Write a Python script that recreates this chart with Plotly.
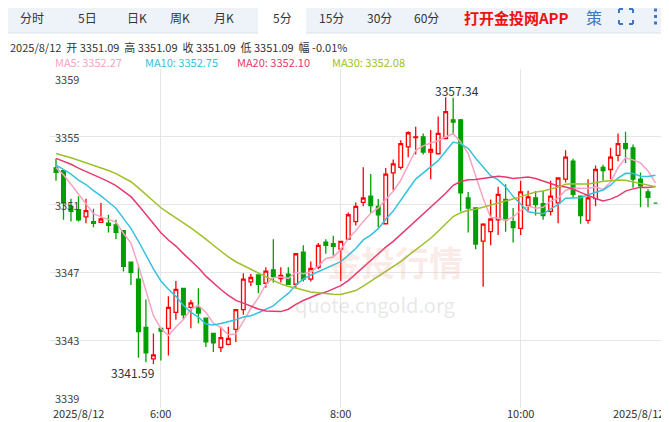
import plotly.graph_objects as go
import pandas as pd

opens = [3353.17,3353.0,3350.9,3350.7,3350.27,3350.0,3349.95,3349.9,3349.8,3349.46,3347.6,3346.6,3343.76,3341.9,3343.7,3343.7,3344.64,3346.06,3344.94,3344.9,
 3344.3,3343.4,3342.57,3342.75,3343.64,3344.8,3346.44,3346.85,3346.36,3347.15,3346.64,3346.9,3346.3,3348.2,3346.6,3347.3,3348.79,3348.69,3348.37,3348.96,
 3350.0,3351.13,3351.5,3350.9,3349.87,3352.87,3353.2,3354.4,3354.96,3355.0,3354.1,3354.0,3354.9,3356.0,3356.0,3351.4,3350.8,3348.85,3349.4,3350.1,
 3351.3,3350.0,3349.6,3350.96,3351.4,3351.05,3350.6,3351.1,3352.5,3353.57,3351.5,3350.07,3351.35,3353.2,3353.07,3353.9,3354.6,3354.35,3352.5,3351.75,3351.09]
highs = [3353.7,3353.0,3351.35,3351.5,3351.35,3350.76,3351.1,3350.4,3350.1,3349.46,3347.6,3347.35,3345.4,3343.4,3343.7,3345.6,3346.5,3346.06,3345.37,3346.06,
 3344.3,3343.4,3343.8,3343.8,3344.8,3346.95,3346.9,3346.85,3347.3,3348.96,3347.3,3347.3,3348.1,3348.6,3347.65,3348.73,3348.96,3349.16,3348.83,3350.54,
 3351.13,3353.2,3352.8,3351.33,3353.16,3353.66,3354.8,3355.33,3355.6,3355.2,3355.4,3356.2,3357.34,3357.3,3356.05,3351.75,3350.8,3349.9,3351.3,3352.05,
 3352.2,3350.8,3352.4,3351.82,3351.8,3351.8,3352.4,3352.57,3354.2,3353.7,3351.5,3352.5,3353.3,3353.35,3354.35,3355.2,3355.3,3354.55,3352.9,3351.9,3351.09]
lows = [3352.4,3350.1,3350.0,3350.0,3349.9,3349.67,3349.95,3349.36,3348.96,3347.05,3346.26,3341.96,3341.7,3341.59,3341.8,3342.1,3344.2,3344.23,3343.7,3344.0,
 3342.6,3342.3,3342.3,3342.7,3342.9,3344.5,3346.2,3345.77,3346.1,3346.4,3346.4,3346.26,3346.1,3346.46,3346.46,3347.2,3348.1,3348.0,3346.5,3348.96,
 3349.77,3350.9,3350.5,3349.65,3349.87,3351.84,3353.07,3353.8,3353.95,3353.95,3352.5,3354.0,3354.9,3355.1,3350.6,3349.36,3348.37,3346.16,3348.6,3349.2,
 3349.4,3348.77,3349.2,3350.64,3350.35,3350.1,3350.35,3349.9,3352.3,3351.4,3349.87,3349.87,3350.9,3352.4,3352.5,3353.56,3353.46,3352.0,3350.84,3350.84,3351.09]
closes = [3352.9,3351.1,3350.6,3350.1,3350.64,3349.9,3350.15,3349.77,3349.36,3347.35,3347.0,3343.5,3342.26,3342.14,3343.54,3344.94,3346.0,3344.5,3345.2,3344.6,
 3342.9,3342.85,3343.15,3343.1,3344.8,3346.6,3346.7,3346.3,3347.07,3346.75,3346.83,3346.3,3348.1,3346.6,3347.23,3348.6,3348.6,3348.53,3348.83,3350.4,
 3350.9,3351.39,3350.94,3350.4,3352.8,3353.4,3354.6,3355.24,3355.0,3354.1,3354.25,3355.2,3356.48,3355.87,3351.7,3350.8,3348.67,3349.85,3350.15,3351.6,
 3350.1,3349.65,3351.75,3351.45,3351.0,3350.35,3351.5,3352.57,3353.8,3351.6,3350.35,3351.4,3353.07,3353.0,3353.8,3354.6,3354.3,3352.5,3352.1,3351.43,3351.09]
# closes before the visible window (estimated so the MAs start where the picture shows)
prior_closes = [3354.6,3354.8,3354.5,3354.9,3354.7,3354.4,3354.6,3354.8,3354.5,3354.3,
 3354.4,3354.2,3354.6,3354.3,3354.0,3354.2,3353.9,3354.1,3353.8,3353.6,
 3353.7,3353.4,3353.6,3353.3,3353.5,3353.2,3353.4,3353.1,3353.3]
tick_idx = [14, 38, 62]
tick_text = ["6:00", "8:00", "10:00"]
y_ticks = [3339, 3343, 3347, 3351, 3355, 3359]

n = len(closes)
x = list(range(n))
allc = pd.Series(prior_closes + closes)
k = len(prior_closes)
ma_cfg = [(5, "#f7a3c2"), (10, "#36c2de"), (20, "#e8396e"), (30, "#9dc02c")]

fig = go.Figure()
for p, col in ma_cfg:
    ma = allc.rolling(p).mean().iloc[k:].tolist()
    fig.add_trace(go.Scatter(x=x, y=ma, mode="lines", line=dict(color=col, width=1.5), hoverinfo="skip"))
fig.add_trace(go.Candlestick(x=x, open=opens, high=highs, low=lows, close=closes,
    increasing=dict(line=dict(color="#ff0000", width=1.3), fillcolor="white"),
    decreasing=dict(line=dict(color="#009f00", width=1.3), fillcolor="#009f00"),
    whiskerwidth=0))

fig.update_layout(width=661, height=414, margin=dict(l=42, r=0, t=61, b=14, autoexpand=False),
    paper_bgcolor="white", plot_bgcolor="white", showlegend=False,
    font=dict(family="Noto Sans CJK SC, Arial", size=11, color="#333"),
    xaxis=dict(range=[-0.8, 81.8], tickvals=tick_idx, showticklabels=False, showgrid=True, automargin=False,
               gridcolor="#e6e6e6", zeroline=False, rangeslider=dict(visible=False), showline=False),
    yaxis=dict(range=[3339, 3359], tickvals=y_ticks, showticklabels=False, gridcolor="#e6e6e6", automargin=False,
               zeroline=False, showline=False))

def px(xp): return (xp-50)/619
def py(yp): return (408-yp)/339
blue = "#3b78c4"
def seg(x0, y0, x1, y1):
    return dict(type="line", xref="paper", yref="paper", x0=px(x0), y0=py(y0), x1=px(x1), y1=py(y1), line=dict(color=blue, width=2))
shapes = [
    dict(type="rect", xref="paper", yref="paper", x0=px(0), x1=px(669), y0=py(33), y1=py(0), fillcolor="#eef3fa", line=dict(color="#d8e0ea", width=1)),
    dict(type="rect", xref="paper", yref="paper", x0=px(258), x1=px(306), y0=py(34), y1=py(5), fillcolor="white", line=dict(width=0)),
    dict(type="line", xref="paper", yref="paper", x0=px(258), x1=px(306), y0=py(6), y1=py(6), line=dict(color="#1e3a78", width=2)),
]
# fullscreen icon corners
for cx, cy, dx, dy in [(619, 9, 1, 1), (633, 9, -1, 1), (619, 24, 1, -1), (633, 24, -1, -1)]:
    shapes.append(seg(cx, cy, cx + 4*dx, cy))
    shapes.append(seg(cx, cy, cx, cy + 4*dy))
for cy in [10, 16.5, 23]:
    shapes.append(dict(type="rect", xref="paper", yref="paper", x0=px(654), x1=px(657), y0=py(cy+1.5), y1=py(cy-1.5), fillcolor=blue, line=dict(width=0)))
fig.update_layout(shapes=shapes)

ann = []
def txt(xp, yp, s, color="#333", size=11, anchor="center", bold=False):
    ann.append(dict(xref="paper", yref="paper", x=px(xp), y=py(yp), text=("<b>%s</b>" % s) if bold else s,
                    showarrow=False, xanchor=anchor, yanchor="middle", font=dict(color=color, size=size)))
for s, xp in [("分时", 32), ("5日", 87), ("日K", 137), ("周K", 180), ("月K", 224), ("5分", 282), ("15分", 331), ("30分", 379), ("60分", 426)]:
    txt(xp, 18, s, size=12)
txt(516, 17, "打开金投网APP", color="#ee1111", size=15, bold=True)
txt(594, 17, "策", color=blue, size=16)
txt(8, 47, "2025/8/12  开 3351.09  高 3351.09  收 3351.09  低 3351.09  幅 -0.01%", anchor="left", size=11)
txt(53, 62, "MA5: 3352.27", color="#f7a3c2", anchor="left")
txt(143, 62, "MA10: 3352.75", color="#36c2de", anchor="left")
txt(235, 62, "MA20: 3352.10", color="#e8396e", anchor="left")
txt(330, 62, "MA30: 3352.08", color="#9dc02c", anchor="left")
for v in y_ticks:
    ann.append(dict(xref="paper", yref="y", x=px(53), y=v, text=str(v), showarrow=False, xanchor="left",
                    yanchor="top" if v == 3359 else ("bottom" if v == 3339 else "middle"), font=dict(color="#444", size=11)))
for i, s in zip(tick_idx, tick_text):
    ann.append(dict(xref="x", yref="paper", x=i, y=py(413), text=s, showarrow=False, yanchor="middle", font=dict(size=11, color="#333")))
txt(78, 413, "2025/8/12")
txt(638, 413, "2025/8/12")
txt(132, 372, "3341.59", size=12)
txt(457, 90, "3357.34", size=12)
txt(395, 262, "金投行情", color="rgba(230,150,140,0.2)", size=34, bold=True)
txt(375, 304, "quote.cngold.org", color="rgba(160,160,160,0.25)", size=20)
fig.update_layout(annotations=ann)
fig.write_html("out.html")
